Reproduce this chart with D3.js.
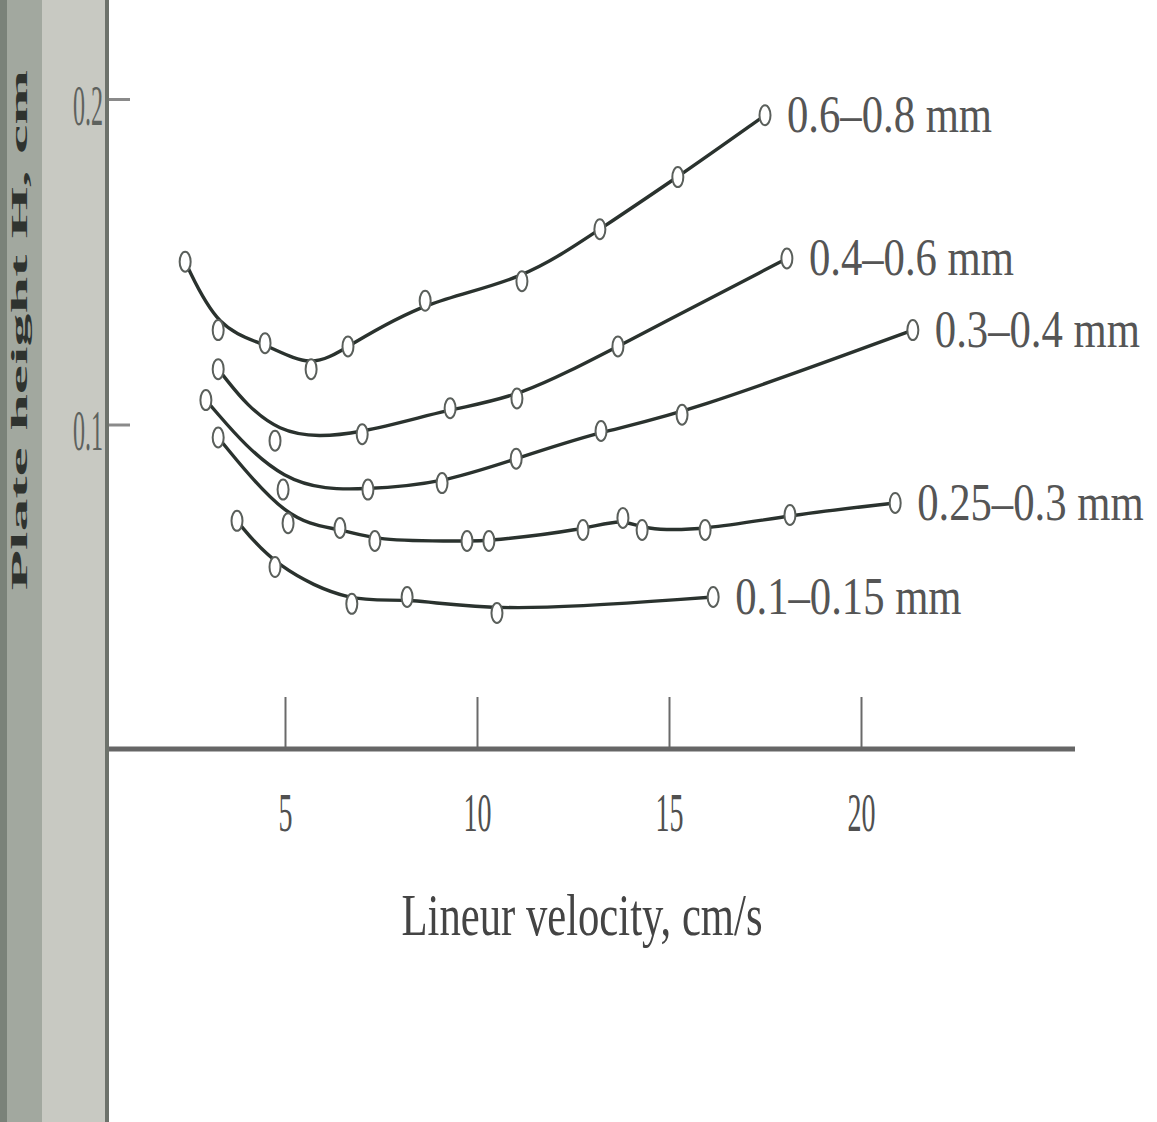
<!DOCTYPE html>
<html><head><meta charset="utf-8">
<script src="https://cdn.jsdelivr.net/npm/d3@7"></script>
<style>body{margin:0;background:#fff}svg{display:block}</style></head>
<body><svg id="c" width="1157" height="1122"></svg>
<script>
// ---- data ----
const seriesNames = ["0.6–0.8 mm", "0.4–0.6 mm", "0.3–0.4 mm", "0.25–0.3 mm", "0.1–0.15 mm"];
const velA = [2.40, 3.26, 4.48, 5.68, 6.64, 8.65, 11.17, 13.20, 15.23, 17.50];
const hA   = [0.150, 0.129, 0.125, 0.117, 0.124, 0.138, 0.144, 0.160, 0.176, 0.195];
const velB = [3.26, 4.74, 7.01, 9.30, 11.04, 13.67, 18.07];
const hB   = [0.117, 0.095, 0.097, 0.105, 0.108, 0.124, 0.151];
const velC = [2.94, 4.95, 7.16, 9.09, 11.02, 13.23, 15.34, 21.35];
const hC   = [0.1075, 0.080, 0.080, 0.082, 0.0895, 0.098, 0.103, 0.129];
const velD = [3.26, 5.08, 6.43, 7.34, 9.74, 10.31, 12.76, 13.80, 14.30, 15.94, 18.15, 20.89];
const hD   = [0.096, 0.0697, 0.0682, 0.0642, 0.0642, 0.0642, 0.0676, 0.0713, 0.0676, 0.0676, 0.0722, 0.0759];
const velE = [3.75, 4.74, 6.74, 8.18, 10.52, 16.15];
const hE   = [0.0704, 0.0562, 0.0449, 0.047, 0.0421, 0.047];
const xTicks = [5, 10, 15, 20];
const yTicks = [0.1, 0.2];
const xTitle = "Lineur velocity, cm/s";
const yTitle = "Plate height H, cm";

const series = [[velA, hA], [velB, hB], [velC, hC], [velD, hD], [velE, hE]].map((p, i) => ({
  name: seriesNames[i],
  pts: p[0].map((v, j) => ({x: v, y: p[1][j]}))
}));

const svg = d3.select("#c");
const x = d3.scaleLinear().domain([5, 20]).range([285, 861]);
const y = d3.scaleLinear().domain([0, 0.2]).range([750, 99]);
const font = "'Liberation Serif', 'Times New Roman', serif";

svg.append("rect").attr("width", 1157).attr("height", 1122).attr("fill", "#fff");
// grey strip on the left (scan edge)
svg.append("rect").attr("x", 0).attr("y", 0).attr("width", 107).attr("height", 1122).attr("fill", "#c8c9c2");
svg.append("rect").attr("x", 0).attr("y", 0).attr("width", 42).attr("height", 1122).attr("fill", "#a2a89f");
svg.append("rect").attr("x", 0).attr("y", 0).attr("width", 7).attr("height", 1122).attr("fill", "#7a8279");

// y-axis title
svg.append("text")
  .attr("transform", "translate(27,330) rotate(-90) scale(2.75,1)")
  .attr("text-anchor", "middle")
  .attr("font-family", font).attr("font-weight", "bold").attr("font-size", 24)
  .attr("fill", "#2f332f").text(yTitle);

// x axis
const gx = svg.append("g").attr("transform", `translate(0,${y(0)})`)
  .call(d3.axisBottom(x).tickValues(xTicks).tickSizeInner(-53).tickSizeOuter(0).tickFormat(d3.format("d")));
gx.select(".domain").remove();
gx.selectAll(".tick line").attr("stroke", "#6a6a6a").attr("stroke-width", 2);
gx.selectAll(".tick text").attr("y", 0).attr("dy", null)
  .attr("transform", "translate(0,81) scale(0.7,1.35)")
  .attr("font-family", font).attr("font-size", 40).attr("fill", "#505050");
svg.append("line").attr("x1", 107).attr("x2", 1075).attr("y1", y(0) - 1).attr("y2", y(0) - 1)
  .attr("stroke", "#666").attr("stroke-width", 5);

// y axis
const gy = svg.append("g").attr("transform", "translate(107,0)")
  .call(d3.axisLeft(y).tickValues(yTicks).tickSizeInner(-23).tickSizeOuter(0).tickPadding(0).tickFormat(d3.format(".1f")));
gy.select(".domain").remove();
gy.selectAll(".tick line").attr("stroke", "#8a8a8a").attr("stroke-width", 3);
gy.selectAll(".tick text").attr("x", 0).attr("dy", null).attr("text-anchor", "end")
  .attr("transform", "translate(-4,25) scale(0.6,1.45)")
  .attr("font-family", font).attr("font-size", 40).attr("fill", "#5e625e");
svg.append("line").attr("x1", 107).attr("x2", 107).attr("y1", 0).attr("y2", 1122)
  .attr("stroke", "#6d726b").attr("stroke-width", 4);

// x title
svg.append("text").attr("transform", "translate(582,935) scale(0.97,1.36)")
  .attr("text-anchor", "middle").attr("font-family", font).attr("font-size", 44)
  .attr("fill", "#444").text(xTitle);

// curves
const line = d3.line().x(d => x(d.x)).y(d => y(d.y)).curve(d3.curveBasis);
const g = svg.append("g");
series.forEach(s => {
  g.append("path").attr("d", line(s.pts)).attr("fill", "none")
    .attr("stroke", "#2a322e").attr("stroke-width", 3.4);
  g.selectAll(null).data(s.pts).enter().append("ellipse")
    .attr("cx", d => x(d.x)).attr("cy", d => y(d.y)).attr("rx", 5.5).attr("ry", 10)
    .attr("fill", "#fff").attr("stroke", "#5a5f5b").attr("stroke-width", 2);
  const last = s.pts[s.pts.length - 1];
  g.append("text")
    .attr("transform", `translate(${x(last.x) + 22},${y(last.y) + 17}) scale(0.97,1.18)`)
    .attr("font-family", font).attr("font-size", 44).attr("fill", "#555").text(s.name);
});
</script></body></html>
